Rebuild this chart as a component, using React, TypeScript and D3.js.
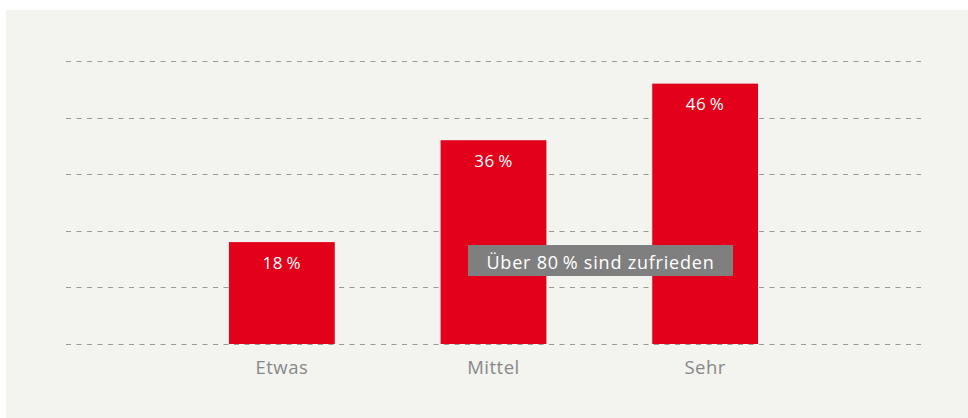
import React from "react";
import * as d3 from "d3";

const categories = ["Etwas", "Mittel", "Sehr"];
const values = [18, 36, 46];
const gridTicks = [0, 10, 20, 30, 40, 50];
const annotation = "Über 80\u2009% sind zufrieden";

const W = 968;
const H = 418;
const FONT = "'Open Sans', Roboto, sans-serif";

export default function App() {
  const x = d3
    .scaleBand<string>()
    .domain(categories)
    .range([66, 921])
    .paddingInner(0.5)
    .paddingOuter(0.77);
  const y = d3.scaleLinear().domain([0, 50]).range([344, 61]);

  return (
    <svg
      width={W}
      height={H}
      style={{ position: "absolute", left: 0, top: 0, display: "block" }}
    >
      <rect x={6} y={10} width={W - 6} height={H - 10} fill="#f3f3f0" />
      {gridTicks.map((t) => (
        <line
          key={t}
          x1={66}
          x2={921}
          y1={Math.round(y(t)) + 0.5}
          y2={Math.round(y(t)) + 0.5}
          stroke="#999"
          strokeWidth={1}
          strokeDasharray="5,5.5"
        />
      ))}
      {categories.map((c, i) => (
        <g key={c}>
          <rect
            x={x(c)!}
            y={y(values[i])}
            width={x.bandwidth()}
            height={y(0) - y(values[i])}
            fill="#e2001a"
          />
          <text
            x={x(c)! + x.bandwidth() / 2}
            y={y(values[i]) + 26.5}
            textAnchor="middle"
            fill="#fff"
            fontFamily={FONT}
            fontSize={17}
            letterSpacing={0.6}
          >
            {values[i]}
            {"\u2009%"}
          </text>
          <text
            x={x(c)! + x.bandwidth() / 2}
            y={373.5}
            textAnchor="middle"
            fill="#888"
            fontFamily={FONT}
            fontSize={18.5}
            letterSpacing={0.5}
          >
            {c}
          </text>
        </g>
      ))}
      <rect x={468} y={245} width={265} height={31} fill="#7f7f7f" />
      <text
        x={600.5}
        y={268.5}
        textAnchor="middle"
        fill="#fff"
        fontFamily={FONT}
        fontSize={18}
        letterSpacing={0.8}
      >
        {annotation}
      </text>
    </svg>
  );
}
